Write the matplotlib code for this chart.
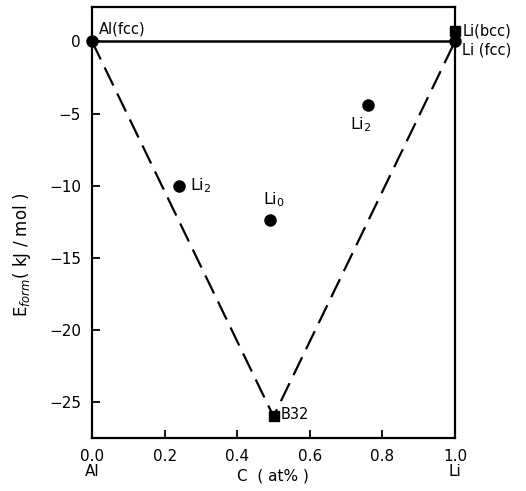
import matplotlib
matplotlib.use("Agg")
import matplotlib.pyplot as plt

# formation energies (kJ/mol) vs Li concentration
hull_x = [0.0, 0.5, 1.0]
hull_y = [0.0, -26.0, 0.0]

circ_x = [0.0, 1.0, 0.24, 0.76, 0.49]
circ_y = [0.0, 0.0, -10.0, -4.4, -12.4]

sq_x = [1.0, 0.5]
sq_y = [0.7, -26.0]

xticks = [0.0, 0.2, 0.4, 0.6, 0.8, 1.0]
yticks = [0, -5, -10, -15, -20, -25]

fig = plt.figure(figsize=(5.26, 4.91), dpi=100)
ax = fig.add_axes([0.175, 0.108, 0.69, 0.878])

ax.plot([0, 1], [0, 0], color="black", lw=1.8)
ax.plot(hull_x, hull_y, color="black", lw=1.6, dashes=(9, 4))
ax.plot(circ_x, circ_y, "o", color="black", ms=8, clip_on=False)
ax.plot(sq_x, sq_y, "s", color="black", ms=7, clip_on=False)

ax.set_xlim(0, 1.0)
ax.set_ylim(-27.5, 2.4)
ax.set_xticks(xticks)
ax.set_xticklabels(["%.1f" % v for v in xticks])
ax.set_yticks(yticks)
ax.tick_params(direction="in", length=6, width=1.3, labelsize=11, pad=8)
for s in ax.spines.values():
    s.set_linewidth(1.6)

fs = 10.5
ax.text(0.02, 0.35, "Al(fcc)", fontsize=fs, ha="left", va="bottom")
ax.text(1.02, 0.7, "Li(bcc)", fontsize=fs, ha="left", va="center", clip_on=False)
ax.text(1.02, -0.6, "Li (fcc)", fontsize=fs, ha="left", va="center", clip_on=False)
ax.text(0.27, -10.0, "Li$_2$", fontsize=fs + 1, ha="left", va="center")
ax.text(0.74, -5.8, "Li$_2$", fontsize=fs + 1, ha="center", va="center")
ax.text(0.50, -11.0, "Li$_0$", fontsize=fs + 1, ha="center", va="center")
ax.text(0.52, -25.9, "B32", fontsize=fs, ha="left", va="center")

fig.text(273 / 526, 1 - 476 / 491, "C  ( at% )", fontsize=11, ha="center", va="center")
fig.text(22 / 526, 1 - 255 / 491, "E$_{form}$( kJ / mol )", fontsize=12,
         rotation=90, ha="center", va="center")
fig.text(92 / 526, 1 - 471 / 491, "Al", fontsize=11, ha="center", va="center")
fig.text(455 / 526, 1 - 472 / 491, "Li", fontsize=11, ha="center", va="center")

fig.savefig("out.png", dpi=100)
